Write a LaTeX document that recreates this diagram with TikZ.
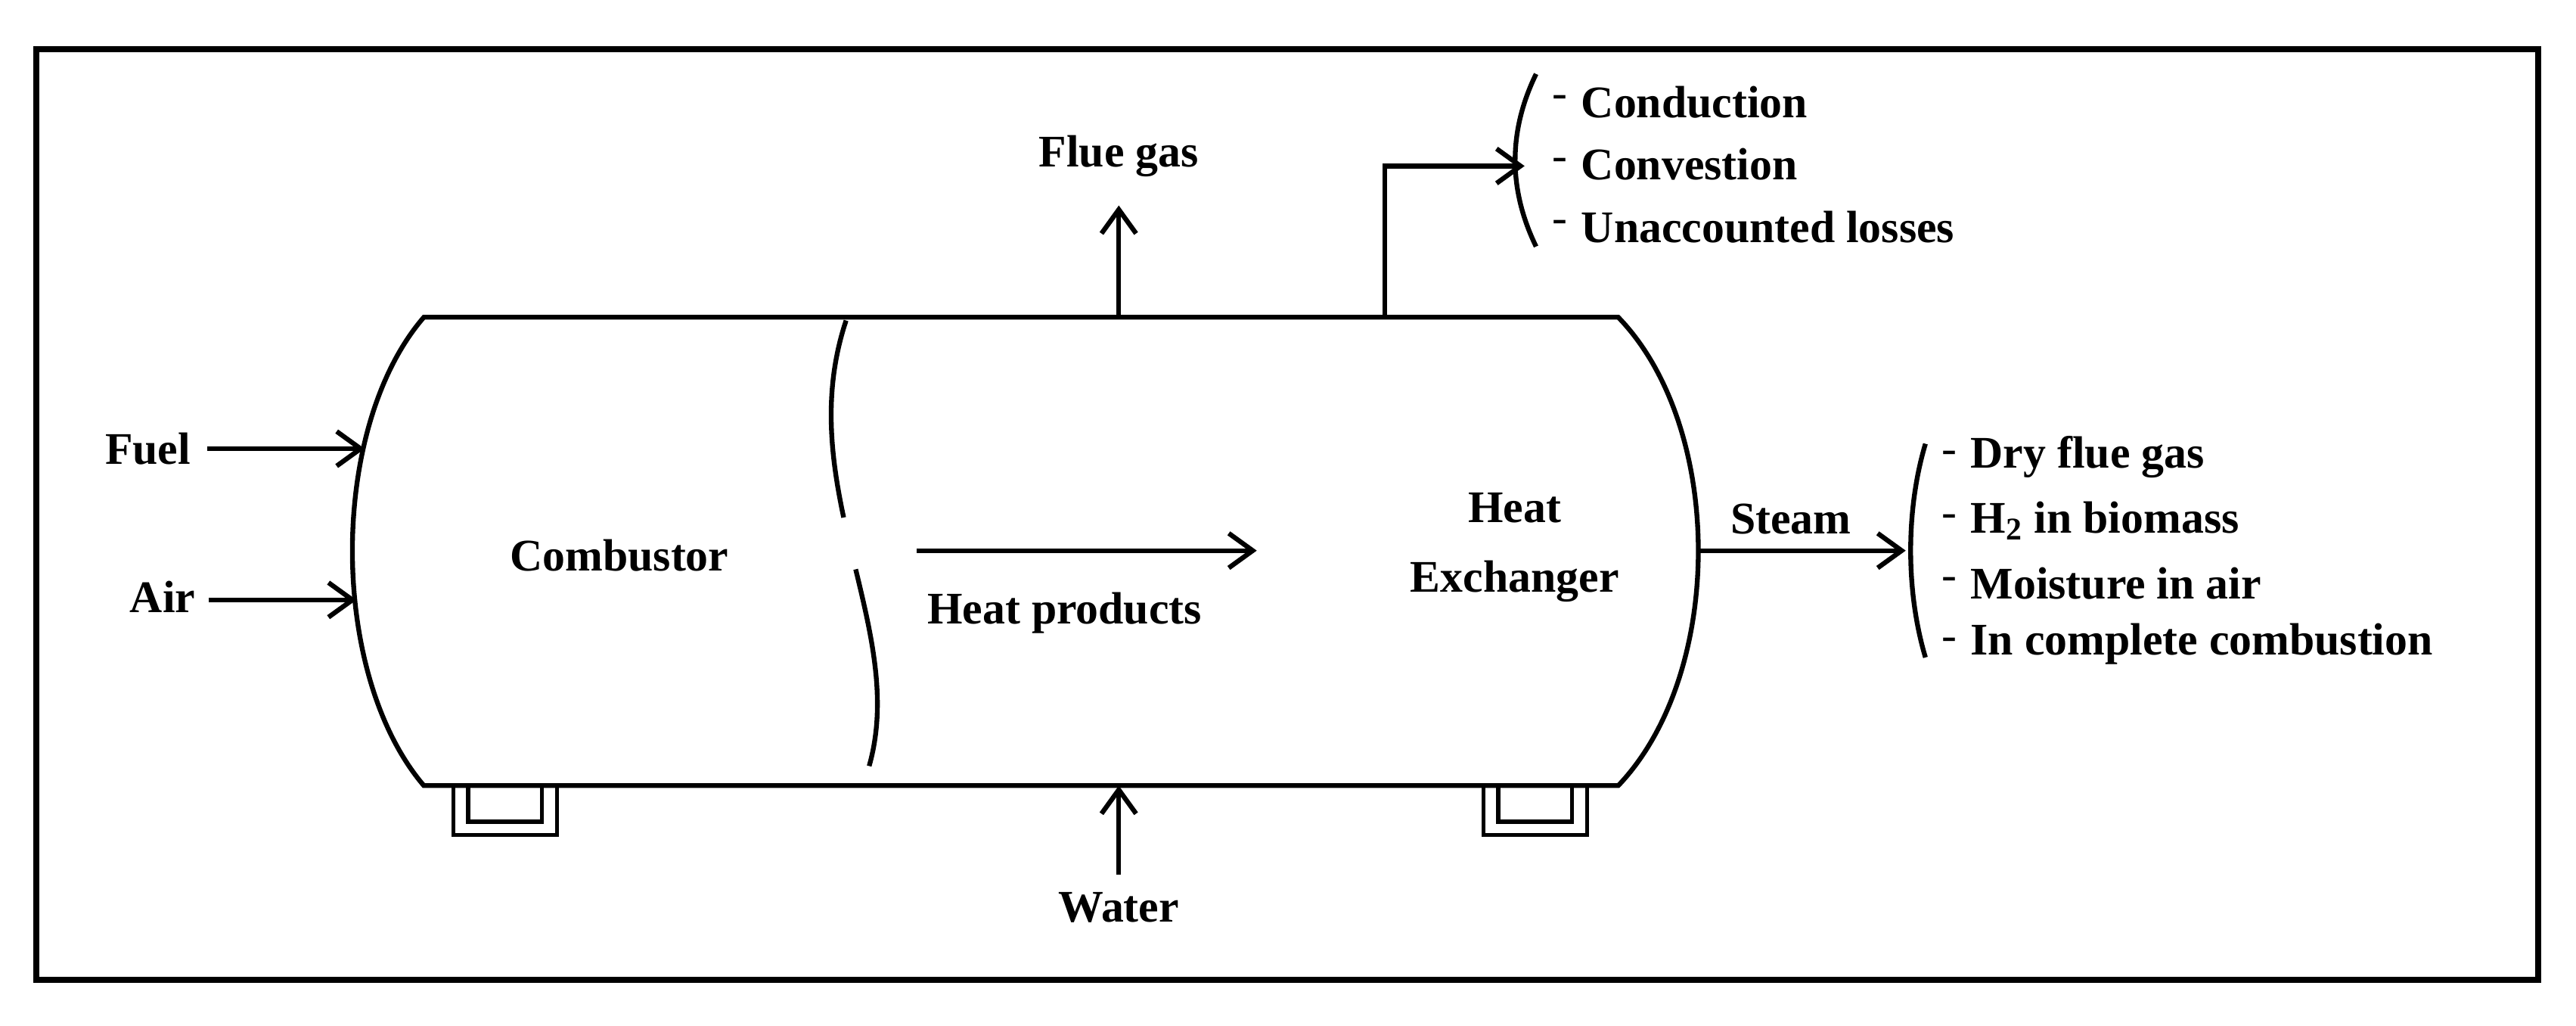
\documentclass[tikz,border=0pt]{standalone}
\usepackage{fontspec}
\setmainfont{Liberation Serif}
\usetikzlibrary{arrows.meta}
\begin{document}
\begin{tikzpicture}[x=0.02172cm,y=-0.02172cm,
  ln/.style={line width=1.8pt},
  ar/.style={ln,-{Straight Barb[length=9pt,width=13pt,line width=1.8pt]}},
  lb/.style={font=\fontsize{17}{20}\selectfont\bfseries,inner sep=1pt},
  li/.style={lb,anchor=west}]
\useasboundingbox (0,0) rectangle (1568,624);
\draw[line width=2.2pt] (22,30) rectangle (1545,596);
% vessel
\draw[ln] (258,193) -- (985,193) .. controls (1050,260) and (1050,410) .. (985,478) -- (258,478)
  .. controls (200,410) and (200,260) .. cycle;
% dashed partition
\draw[ln,dash pattern=on 75pt off 20pt] (515,195) .. controls (480,300) and (560,390) .. (525,478);
% feet
\foreach \a in {276,903}{
 \draw[line width=1.5pt] (\a,478) -- (\a,508) -- (\a+63,508) -- (\a+63,478);
 \draw[line width=1.5pt] (\a+9,478) -- (\a+9,500) -- (\a+54,500) -- (\a+54,478);}
% labels
\node[lb] (fuel) at (90,273) {Fuel};
\node[lb] (air) at (99,363) {Air};
\coordinate (fuelin) at (222,273);
\coordinate (airin) at (217,365);
\draw[ar] (fuel.east)+(8,0) -- (fuelin);
\draw[ar] (127,365) -- (airin);
\node[lb] (comb) at (377,338) {Combustor};
\node[lb,align=center] (hx) at (922,333) {Heat\\[6pt]Exchanger};
\coordinate (hp1) at (558,335); \coordinate (hp2) at (765,335);
\draw[ar] (hp1) -- (hp2);
\node[lb] (hp) at (648,373) {Heat products};
\node[lb] (flue) at (681,95) {Flue gas};
\coordinate (fg0) at (681,193); \coordinate (fg1) at (681,125);
\draw[ar] (fg0) -- (fg1);
\coordinate (p0) at (843,193); \coordinate (p1) at (843,101); \coordinate (p2) at (928,101);
\draw[ar] (p0) -- (p1) -- (p2);
\draw[ln] (935,45) .. controls (918,80) and (918,115) .. (935,150);
\node[li] (c1) at (943,62) {\mdseries -\,}; \node[li] at (c1.east) {Conduction};
\node[li] (c2) at (943,100) {\mdseries -\,}; \node[li] at (c2.east) {Convestion};
\node[li] (c3) at (943,138) {\mdseries -\,}; \node[li] at (c3.east) {Unaccounted losses};
\node[lb] (steam) at (1090,316) {Steam};
\coordinate (s0) at (1035,335); \coordinate (s1) at (1160,335);
\draw[ar] (s0) -- (s1);
\draw[ln] (1172,270) .. controls (1160,310) and (1160,360) .. (1172,400);
\node[li] (d1) at (1180,278) {\mdseries -\,}; \node[li] at (d1.east) {Dry flue gas};
\node[li] (d2) at (1180,317) {\mdseries -\,}; \node[li] at (d2.east) {H\textsubscript{2} in biomass};
\node[li] (d3) at (1180,355) {\mdseries -\,}; \node[li] at (d3.east) {Moisture in air};
\node[li] (d4) at (1180,392) {\mdseries -\,}; \node[li] at (d4.east) {In complete combustion};
\node[lb] (water) at (681,552) {Water};
\coordinate (w0) at (681,532); \coordinate (w1) at (681,478);
\draw[ar] (w0) -- (w1);
\end{tikzpicture}
\end{document}
